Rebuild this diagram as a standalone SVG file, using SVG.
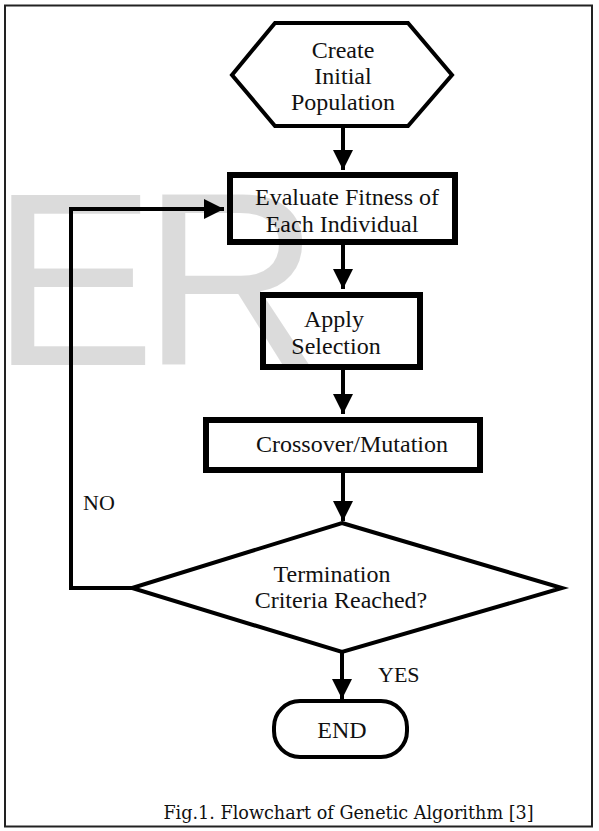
<svg xmlns="http://www.w3.org/2000/svg" width="599" height="831" viewBox="0 0 599 831">
<style>
.t{font-family:"Liberation Serif","Times New Roman",serif;font-size:24px;fill:#111;text-anchor:middle}
.lbl{font-family:"Liberation Serif","Times New Roman",serif;font-size:22px;fill:#111}
.box{fill:#fff;stroke:#000;stroke-width:6}
.shp{fill:#fff;stroke:#000;stroke-width:4;stroke-linejoin:miter}
.con{fill:none;stroke:#000;stroke-width:4}
.cap{font-family:"DejaVu Serif","Liberation Serif",serif;font-size:17.6px;fill:#111;text-anchor:middle}
.wm{font-family:"Liberation Sans",Arial,sans-serif;font-size:247px;fill:#000;fill-opacity:0.14}
</style>
<defs>
<marker id="ah" markerUnits="userSpaceOnUse" markerWidth="22" markerHeight="20" refX="20" refY="10" orient="auto">
<path d="M0,0 L20,10 L0,20 Z" fill="#000"/>
</marker>
</defs>
<rect x="0" y="0" width="599" height="831" fill="#fff"/>
<rect x="5" y="5.5" width="587" height="821" fill="none" stroke="#222" stroke-width="2"/>
<g id="connectors">
<line class="con" x1="343" y1="126" x2="343" y2="170" marker-end="url(#ah)"/>
<line class="con" x1="343" y1="245" x2="343" y2="289" marker-end="url(#ah)"/>
<line class="con" x1="343" y1="370" x2="343" y2="414" marker-end="url(#ah)"/>
<line class="con" x1="343" y1="473" x2="343" y2="521" marker-end="url(#ah)"/>
<line class="con" x1="342" y1="652" x2="342" y2="699" marker-end="url(#ah)"/>
<path class="con" d="M132,588 H71 V209 H224" marker-end="url(#ah)"/>
<text class="lbl" x="83" y="510">NO</text>
<text class="lbl" x="378" y="682">YES</text>
</g>
<g id="create">
<polygon class="shp" points="275,23 408,23 452,75 408,126 275,126 232,75"/>
<text class="t" x="343" y="58">Create</text>
<text class="t" x="343" y="84">Initial</text>
<text class="t" x="343" y="110">Population</text>
</g>
<g id="evaluate">
<rect class="box" x="230" y="175" width="225" height="67"/>
<text class="t" x="347" y="205">Evaluate Fitness of</text>
<text class="t" x="342" y="232">Each Individual</text>
</g>
<g id="selection">
<rect class="box" x="263" y="295" width="157" height="72"/>
<text class="t" x="334" y="327">Apply</text>
<text class="t" x="336" y="354">Selection</text>
</g>
<g id="crossover">
<rect class="box" x="206" y="420" width="274" height="50"/>
<text class="t" x="352" y="452">Crossover/Mutation</text>
</g>
<g id="termination">
<polygon class="shp" points="342,523 562,588 342,652 132,588"/>
<text class="t" x="332" y="582">Termination</text>
<text class="t" x="341" y="608">Criteria Reached?</text>
</g>
<g id="end">
<rect class="shp" x="274" y="701" width="133" height="56" rx="26" ry="26" stroke-width="3.5"/>
<text class="t" x="342" y="738">END</text>
</g>
<text class="cap" x="348.5" y="819">Fig.1. Flowchart of Genetic Algorithm [3]</text>
<text class="wm" y="365"><tspan x="-9">E</tspan><tspan x="142">R</tspan></text>
</svg>
